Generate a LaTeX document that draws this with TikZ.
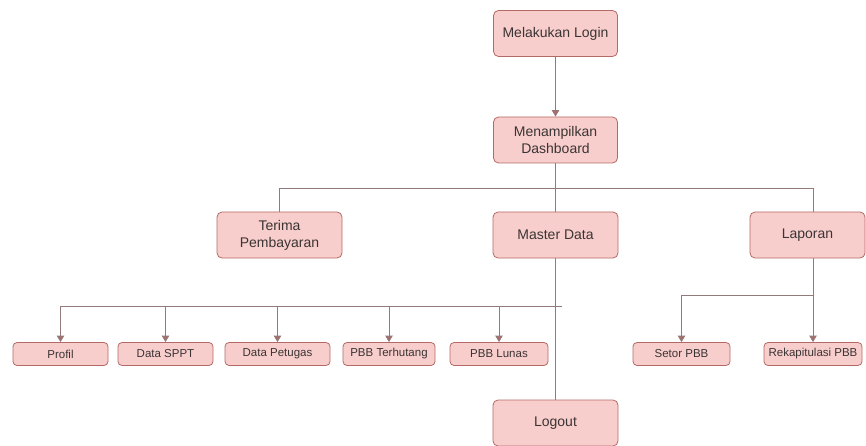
\documentclass[tikz,border=0pt]{standalone}
\usepackage{fontspec}
\setmainfont{Liberation Sans}
\usetikzlibrary{arrows.meta,backgrounds}
\definecolor{boxfill}{HTML}{F8CECC}
\definecolor{boxline}{HTML}{B36A66}
\definecolor{wire}{HTML}{927A7A}
\definecolor{tip}{HTML}{B06A66}
\definecolor{ink}{HTML}{3A3434}
\begin{document}
\begin{tikzpicture}[x=1pt,y=-1pt,
  mainbox/.style={draw=boxline,fill=boxfill,rounded corners=5pt,line width=0.8pt,
    minimum width=124pt,minimum height=46pt,inner sep=0pt,align=center,
    text=ink,font=\fontsize{14}{17}\selectfont},
  leafbox/.style={draw=boxline,fill=boxfill,rounded corners=4pt,line width=0.8pt,
    minimum height=23pt,inner sep=0pt,align=center,
    text=ink,font=\fontsize{11.5}{13}\selectfont},
  wireline/.style={draw=wire,line width=0.9pt},
  arrowline/.style={wireline,-{Triangle[width=7.5pt,length=6.5pt,fill=tip]}}]
\useasboundingbox (0,0) rectangle (866,446);

% top level flow
\node[mainbox] (login) at (555.5,33.5) {Melakukan Login};
\node[mainbox] (dash) at (555.5,140) {Menampilkan\\Dashboard};

% menu row
\node[mainbox,minimum width=125pt] (terima) at (279.5,235) {Terima\\Pembayaran};
\node[mainbox,minimum width=125pt] (master) at (555.5,235) {Master Data};
\node[mainbox,minimum width=115pt] (lapor) at (807.5,235) {Laporan};
\node[mainbox,minimum width=125pt] (logout) at (555.5,423) {Logout};

% master data items
\node[leafbox,minimum width=95pt] (profil) at (60.5,354) {Profil};
\node[leafbox,minimum width=95pt] (sppt) at (165.5,354) {Data SPPT};
\node[leafbox,minimum width=105pt] (petugas) at (277.5,354) {Data Petugas};
\node[leafbox,minimum width=92pt] (terhutang) at (389,354) {PBB Terhutang};
\node[leafbox,minimum width=98pt] (lunas) at (499,354) {PBB Lunas};

% report items
\node[leafbox,minimum width=97pt] (setor) at (681.5,354) {Setor PBB};
\node[leafbox,minimum width=98pt] (rekap) at (813,354) {Rekapitulasi PBB};

% bus points
\coordinate (topbus) at (813,188);
\coordinate (repbus) at (813,295);
\coordinate (leafbus) at (562,306);

\begin{scope}[on background layer]
  \draw[arrowline] (login) -- (dash);
  \draw[wireline] (dash) -- (master);
  \draw[wireline] (master) -- (logout);
  \draw[wireline] (terima.north) |- (topbus);
  \draw[arrowline] (topbus) -- (rekap.north);
  \draw[arrowline] (repbus) -| (setor.north);
  \draw[arrowline] (leafbus) -| (profil.north);
  \foreach \n in {sppt,petugas,terhutang,lunas}
    \draw[arrowline] (\n.north |- leafbus) -- (\n.north);
\end{scope}
\end{tikzpicture}
\end{document}
